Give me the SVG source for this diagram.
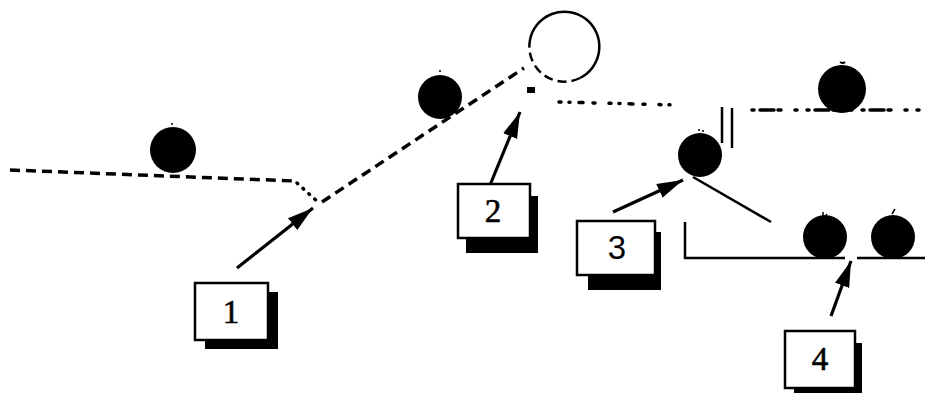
<svg xmlns="http://www.w3.org/2000/svg" width="925" height="393" viewBox="0 0 925 393">
<style>
.ball{fill:#000}
.lbl rect.box{fill:#fff;stroke:#000;stroke-width:2.5}
.lbl rect.sh{fill:#000}
.lbl text{font-family:"Liberation Serif",serif;font-size:33px;fill:#000;stroke:#000;stroke-width:0.6;text-anchor:middle}
.arr{stroke:#000;stroke-width:3.2;fill:none;marker-end:url(#ah)}
.dash{stroke:#000;stroke-width:3.5;fill:none;stroke-dasharray:10 6}
.dot{stroke:#000;stroke-width:3.5;fill:none;stroke-linecap:round}
.solid{stroke:#000;stroke-width:2.5;fill:none}
</style>
<defs>
<marker id="ah" markerUnits="userSpaceOnUse" markerWidth="28" markerHeight="18" refX="26" refY="9" orient="auto">
<path d="M0,1.5 L26,9 L0,16.5 Z" fill="#000"/>
</marker>
</defs>
<rect width="925" height="393" fill="#fff"/>
<g id="track">
<path class="dash" d="M10,170 L295,181"/>
<path class="dot" stroke-dasharray="1 7" d="M297,183 L319,203"/>
<path class="dash" d="M322,202 L524,68"/>
<path class="dot" stroke-dasharray="2 8 1 9 4 10 2 14" d="M559,102 L675,105"/>
<path class="dot" stroke-dasharray="2 6 14 4 3 14 2 10" d="M752,110 L925,110"/>
<path class="solid" stroke-width="3" d="M722,107 L722,143 M732,108 L732,148"/>
<path class="solid" d="M685,222 L685,258 L845,258 M857,258 L925,258"/>
<path class="solid" d="M693,177 L771,222"/>
</g>
<g id="circle">
<path class="solid" d="M530,40 A35,35 0 1 1 580,78"/>
<path class="solid" stroke-dasharray="9 5" d="M580,78 A35,35 0 0 1 530,40"/>
<rect x="527" y="87" width="8" height="6" fill="#000"/>
</g>
<g id="ball-a"><circle class="ball" cx="173" cy="150" r="23"/><circle cx="172" cy="124" r="1" fill="#000"/></g>
<g id="ball-b"><circle class="ball" cx="440" cy="97" r="22"/><circle cx="440" cy="71" r="1" fill="#000"/></g>
<g id="ball-c"><circle class="ball" cx="842" cy="89" r="24"/><path d="M840,62 q3,2 5,0" stroke="#000" stroke-width="2" fill="none"/></g>
<g id="ball-d"><circle class="ball" cx="700" cy="155" r="22"/><circle cx="699" cy="130" r="1" fill="#000"/><circle cx="703" cy="131" r="1" fill="#000"/></g>
<g id="ball-e"><circle class="ball" cx="825" cy="237" r="22"/><path d="M823,212 l0,4 M826,214 l1,1" stroke="#000" stroke-width="1.5"/></g>
<g id="ball-f"><circle class="ball" cx="893" cy="237" r="22"/><path d="M892,214 l3,-5" stroke="#000" stroke-width="1.5"/></g>
<g id="connectors">
<path class="arr" d="M237,268 L313,208"/>
<path class="arr" d="M488,190 L520,112"/>
<path class="arr" d="M613,212 L683,180"/>
<path class="arr" d="M831,316 L851,261"/>
</g>
<g id="label-1" class="lbl"><rect class="sh" x="205" y="292" width="73" height="57"/><rect class="box" x="195" y="283" width="73" height="57"/><text x="231" y="323">1</text></g>
<g id="label-2" class="lbl"><rect class="sh" x="466" y="196" width="72" height="57"/><rect class="box" x="458" y="184" width="72" height="54"/><text x="493" y="222">2</text></g>
<g id="label-3" class="lbl"><rect class="sh" x="588" y="232" width="73" height="58"/><rect class="box" x="577" y="221" width="78" height="54"/><text x="617" y="259" style="font-family:'Liberation Sans',sans-serif;stroke-width:0">3</text></g>
<g id="label-4" class="lbl"><rect class="sh" x="794" y="343" width="68" height="50"/><rect class="box" x="785" y="331" width="70" height="57"/><text x="820" y="370">4</text></g>
</svg>
